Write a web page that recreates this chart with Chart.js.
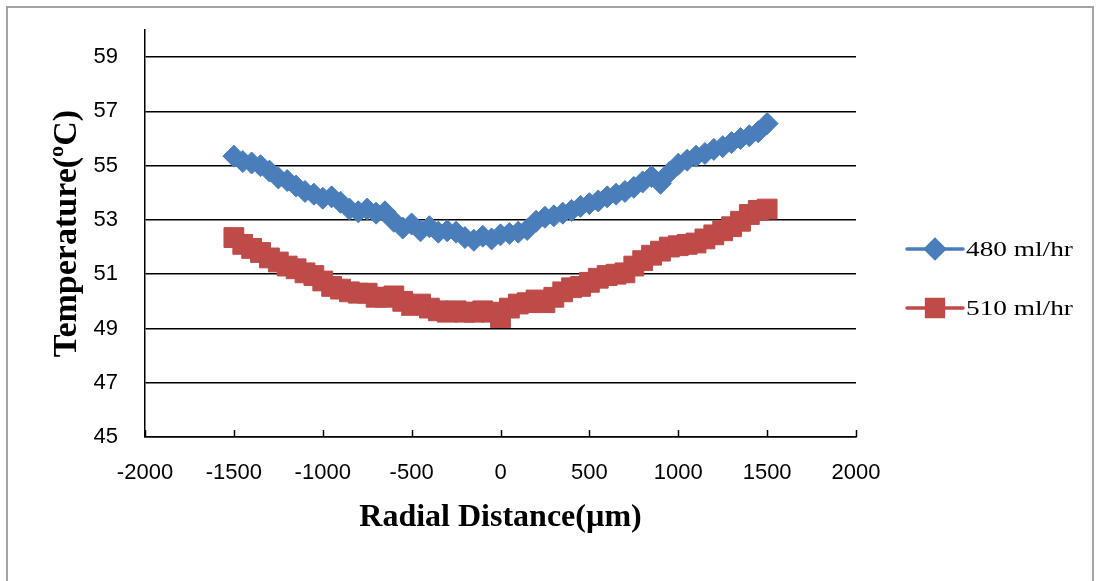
<!DOCTYPE html>
<html>
<head>
<meta charset="utf-8">
<title>Temperature vs radial distance</title>
<script src="https://cdn.jsdelivr.net/npm/chart.js@4/dist/chart.umd.min.js"></script>
<style>
  html, body { margin: 0; padding: 0; background: #fff; overflow: hidden; }
  #wrap { position: relative; width: 1098px; height: 581px; }
  #frame { position: absolute; left: 6px; top: 6px; width: 1084px; height: 700px; border: 2px solid #a3a3a3; pointer-events: none; }
  canvas { position: absolute; left: 0; top: 0; }
</style>
</head>
<body>
<div id="wrap">
  <canvas id="chart" width="1098" height="581"></canvas>
  <div id="frame"></div>
</div>
<script>
// radial positions (µm) shared by both flow rates
const radialDistance = [
  -1500, -1450, -1400, -1350, -1300, -1250, -1200, -1150, -1100, -1050,
  -1000, -950, -900, -850, -800, -750, -700, -650, -600, -550,
  -500, -450, -400, -350, -300, -250, -200, -150, -100, -50,
  0, 50, 100, 150, 200, 250, 300, 350, 400, 450,
  500, 550, 600, 650, 700, 750, 800, 850, 900, 950,
  1000, 1050, 1100, 1150, 1200, 1250, 1300, 1350, 1400, 1450,
  1500
];

// temperature (°C) at 480 ml/hr
const temp480 = [
  55.35, 55.15, 55.10, 55.00, 54.80, 54.55, 54.45, 54.25, 54.05, 53.95,
  53.80, 53.85, 53.65, 53.40, 53.30, 53.40, 53.25, 53.30, 52.95, 52.70,
  52.85, 52.60, 52.75, 52.55, 52.60, 52.55, 52.35, 52.25, 52.40, 52.30,
  52.45, 52.50, 52.55, 52.65, 52.95, 53.10, 53.15, 53.25, 53.35, 53.50,
  53.60, 53.70, 53.85, 53.95, 54.05, 54.20, 54.40, 54.60, 54.35, 54.75,
  55.05, 55.20, 55.35, 55.45, 55.60, 55.70, 55.85, 56.00, 56.10, 56.25,
  56.55
];

// temperature (°C) at 510 ml/hr
const temp510 = [
  52.35, 52.10, 51.95, 51.80, 51.60, 51.45, 51.30, 51.20, 51.05, 50.95,
  50.75, 50.55, 50.45, 50.35, 50.30, 50.30, 50.15, 50.15, 50.20, 50.00,
  49.85, 49.90, 49.75, 49.65, 49.60, 49.65, 49.60, 49.60, 49.65, 49.60,
  49.40, 49.75, 49.90, 49.95, 50.05, 49.95, 50.15, 50.35, 50.50, 50.55,
  50.70, 50.85, 50.95, 51.00, 51.05, 51.30, 51.50, 51.70, 51.85, 52.00,
  52.05, 52.10, 52.15, 52.30, 52.45, 52.60, 52.75, 52.95, 53.20, 53.35,
  53.40
];

const xTicks = [-2000, -1500, -1000, -500, 0, 500, 1000, 1500, 2000];
const yTicks = [45, 47, 49, 51, 53, 55, 57, 59];

const seriesLabels = ['480 ml/hr', '510 ml/hr'];
const BLUE = '#4a7ebb';
const RED = '#be4b48';

const toPoints = (ys) => radialDistance.map((x, i) => ({ x, y: ys[i] }));

// small inward tick marks along the bottom axis
const innerTicks = {
  id: 'innerTicks',
  afterDraw(chart) {
    const { ctx, scales: { x }, chartArea } = chart;
    ctx.save();
    ctx.strokeStyle = '#000';
    ctx.lineWidth = 1.5;
    x.ticks.forEach(t => {
      const px = Math.round(x.getPixelForValue(t.value)) + 0.5;
      ctx.beginPath();
      ctx.moveTo(px, chartArea.bottom);
      ctx.lineTo(px, chartArea.bottom - 7);
      ctx.stroke();
    });
    ctx.restore();
  }
};

// legend on the right: line with marker, then the label
const sideLegend = {
  id: 'sideLegend',
  afterDraw(chart) {
    const { ctx, chartArea } = chart;
    const x0 = chartArea.right + 51;
    const lineLen = 56;
    const rows = [249, 308];
    ctx.save();
    chart.data.datasets.forEach((ds, i) => {
      const y = rows[i];
      ctx.strokeStyle = ds.borderColor;
      ctx.lineWidth = 3.5;
      ctx.lineCap = 'round';
      ctx.beginPath();
      ctx.moveTo(x0, y);
      ctx.lineTo(x0 + lineLen, y);
      ctx.stroke();
      ctx.fillStyle = ds.pointBackgroundColor;
      ctx.strokeStyle = ds.pointBorderColor;
      Chart.helpers.drawPoint(ctx, {
        pointStyle: ds.pointStyle,
        radius: ds.pointRadius * 0.85,
        rotation: 0,
        borderWidth: 1
      }, x0 + lineLen / 2, y);
      ctx.translate(x0 + lineLen + 3, y);
      ctx.scale(1.3, 1);
      ctx.fillStyle = '#000';
      ctx.font = '21px "Liberation Serif", "Times New Roman", serif';
      ctx.textBaseline = 'middle';
      ctx.fillText(ds.label, 0, 1);
      ctx.setTransform(1, 0, 0, 1, 0, 0);
    });
    ctx.restore();
  }
};

const tickFont = { family: '"Liberation Sans", Arial, sans-serif', size: 22 };
const titleFont = (size) => ({ family: '"Liberation Serif", "Times New Roman", serif', size, weight: 'bold' });

new Chart(document.getElementById('chart'), {
  type: 'scatter',
  data: {
    datasets: [
      {
        label: seriesLabels[0],
        data: toPoints(temp480),
        showLine: true,
        borderColor: BLUE,
        borderWidth: 3,
        pointStyle: 'rectRot',
        pointRadius: 11,
        pointBackgroundColor: BLUE,
        pointBorderColor: BLUE,
        pointBorderWidth: 1
      },
      {
        label: seriesLabels[1],
        data: toPoints(temp510),
        showLine: true,
        borderColor: RED,
        borderWidth: 3,
        pointStyle: 'rect',
        pointRadius: 14,
        pointBackgroundColor: RED,
        pointBorderColor: RED,
        pointBorderWidth: 1
      }
    ]
  },
  options: {
    responsive: false,
    animation: false,
    layout: { padding: { left: 0, top: 30, right: 242, bottom: 0 } },
    plugins: { legend: { display: false }, tooltip: { enabled: false } },
    scales: {
      x: {
        type: 'linear',
        min: -2000,
        max: 2000,
        afterBuildTicks: (scale) => { scale.ticks = xTicks.map(v => ({ value: v })); },
        afterFit: (scale) => { scale.height = 144; },
        grid: { drawOnChartArea: false, drawTicks: false },
        border: { color: '#000', width: 1.5 },
        ticks: {
          color: '#000',
          padding: 23,
          maxRotation: 0,
          font: tickFont,
          callback: (v) => String(v)
        },
        title: {
          display: true,
          text: 'Radial Distance(µm)',
          color: '#000',
          padding: { top: 0, bottom: 44 },
          font: titleFont(32)
        }
      },
      y: {
        min: 45,
        max: 60,
        afterBuildTicks: (scale) => { scale.ticks = yTicks.map(v => ({ value: v })); },
        afterFit: (scale) => {
          scale.width = 145;
          // the label gap should not push the plot area down
          scale.paddingTop = 0;
          scale.paddingBottom = 0;
        },
        grid: { color: '#000', lineWidth: 1.5, drawTicks: false },
        border: { color: '#000', width: 1.5 },
        ticks: {
          color: '#000',
          padding: 27,
          font: tickFont,
          callback: (v) => String(v)
        },
        title: {
          display: true,
          text: 'Temperature(ºC)',
          color: '#000',
          padding: { top: 47, bottom: 0 },
          font: titleFont(34)
        }
      }
    }
  },
  plugins: [innerTicks, sideLegend]
});
</script>
</body>
</html>
